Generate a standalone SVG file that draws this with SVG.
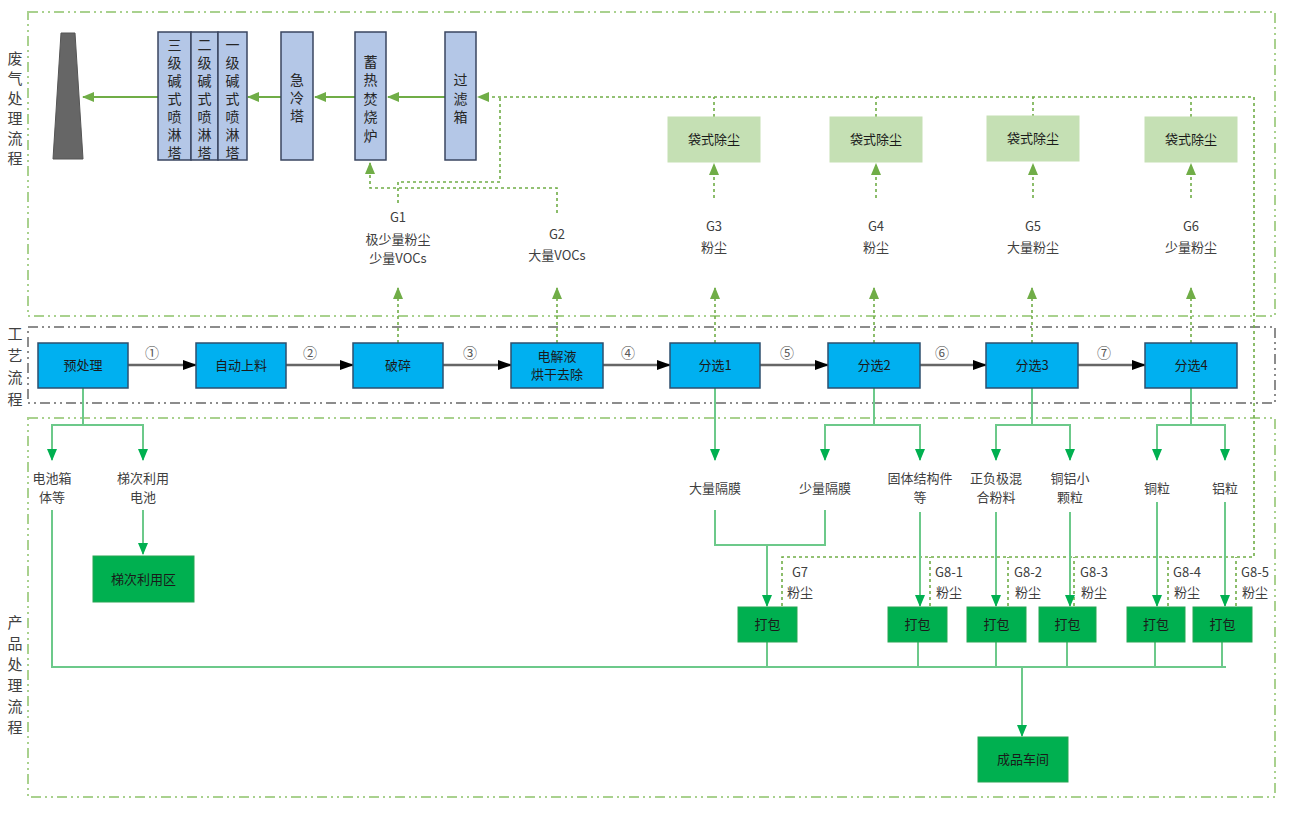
<svg xmlns="http://www.w3.org/2000/svg" width="1290" height="813" viewBox="0 0 1290 813">
<style>
text{font-family:"Noto Sans CJK SC","Liberation Sans",sans-serif;fill:#404040;font-size:13px;text-anchor:middle}
.side{font-size:15px}
.tw{font-size:14px;fill:#262626}
.bx{fill:#1a1a1a}
.frameG{fill:none;stroke:#a9d18e;stroke-width:2;stroke-dasharray:10 4 2 4 2 4}
.frameK{fill:none;stroke:#8c8c8c;stroke-width:2;stroke-dasharray:10 4 2 4 2 4}
.tower{fill:#b4c7e7;stroke:#3a4660;stroke-width:1.5}
.bag{fill:#c5e0b4;stroke:#c5e0b4}
.proc{fill:#00b0f0;stroke:#2e4f6e;stroke-width:1.5}
.pack{fill:#00b050;stroke:#26a653;stroke-width:1}
.gas{fill:none;stroke:#70ad47;stroke-width:2}
.dot{fill:none;stroke:#70ad47;stroke-width:1.6;stroke-dasharray:3 3}
.flow{fill:none;stroke:#6cc98a;stroke-width:2}
.main{fill:none;stroke:#666;stroke-width:2.5}
.num{font-size:14px;fill:#595959}
</style>
<defs>
<marker id="aG" markerUnits="userSpaceOnUse" markerWidth="12" markerHeight="10" refX="11" refY="5" orient="auto"><path d="M0,0 L12,5 L0,10 z" fill="#70ad47"/></marker>
<marker id="aF" markerUnits="userSpaceOnUse" markerWidth="12" markerHeight="10" refX="11" refY="5" orient="auto"><path d="M0,0 L12,5 L0,10 z" fill="#00b050"/></marker>
<marker id="aK" markerUnits="userSpaceOnUse" markerWidth="14" markerHeight="10" refX="13" refY="5" orient="auto"><path d="M0,0 L14,5 L0,10 z" fill="#000"/></marker>
</defs>
<rect width="1290" height="813" fill="#fff"/>

<g id="frames">
<rect class="frameG" x="28" y="12" width="1247" height="304"/>
<rect class="frameK" x="28" y="327" width="1247" height="76"/>
<rect class="frameG" x="28" y="418" width="1247" height="379"/>
</g>

<g id="section-labels">
<text class="side" x="15"><tspan x="15" y="64">废</tspan><tspan x="15" y="84">气</tspan><tspan x="15" y="104">处</tspan><tspan x="15" y="124">理</tspan><tspan x="15" y="144">流</tspan><tspan x="15" y="164">程</tspan></text>
<text class="side" x="15"><tspan x="15" y="339">工</tspan><tspan x="15" y="361">艺</tspan><tspan x="15" y="383">流</tspan><tspan x="15" y="405">程</tspan></text>
<text class="side" x="15"><tspan x="15" y="628">产</tspan><tspan x="15" y="649">品</tspan><tspan x="15" y="670">处</tspan><tspan x="15" y="691">理</tspan><tspan x="15" y="712">流</tspan><tspan x="15" y="733">程</tspan></text>
</g>

<g id="connectors">
<!-- gas treatment solid arrows -->
<path class="gas" d="M445,97 H388" marker-end="url(#aG)"/>
<path class="gas" d="M355,97 H315" marker-end="url(#aG)"/>
<path class="gas" d="M281,97 H248" marker-end="url(#aG)"/>
<path class="gas" d="M158,97 H83" marker-end="url(#aG)"/>
<!-- dust collection pipe -->
<path class="dot" d="M782,606 V557 H1254 V97 H478" marker-end="url(#aG)"/>
<path class="dot" d="M930,606 V557"/>
<path class="dot" d="M1008,606 V557"/>
<path class="dot" d="M1074,606 V557"/>
<path class="dot" d="M1168,606 V557"/>
<path class="dot" d="M1236,606 V557"/>
<path class="dot" d="M714,117 V97"/>
<path class="dot" d="M876,117 V97"/>
<path class="dot" d="M1033,117 V97"/>
<path class="dot" d="M1191,117 V97"/>
<path class="dot" d="M714,198 V164" marker-end="url(#aG)"/>
<path class="dot" d="M876,198 V164" marker-end="url(#aG)"/>
<path class="dot" d="M1033,198 V164" marker-end="url(#aG)"/>
<path class="dot" d="M1191,198 V164" marker-end="url(#aG)"/>
<path class="dot" d="M398,343 V288" marker-end="url(#aG)"/>
<path class="dot" d="M557,343 V288" marker-end="url(#aG)"/>
<path class="dot" d="M715,343 V288" marker-end="url(#aG)"/>
<path class="dot" d="M874,343 V288" marker-end="url(#aG)"/>
<path class="dot" d="M1032,343 V288" marker-end="url(#aG)"/>
<path class="dot" d="M1191,343 V288" marker-end="url(#aG)"/>
<path class="dot" d="M398,203 V182 H500 V97"/>
<path class="dot" d="M557,213 V188 H370 V163" marker-end="url(#aG)"/>
<!-- main process arrows -->
<path class="main" d="M128,365 H196" marker-end="url(#aK)"/>
<path class="main" d="M286,365 H353" marker-end="url(#aK)"/>
<path class="main" d="M443,365 H511" marker-end="url(#aK)"/>
<path class="main" d="M603,365 H670" marker-end="url(#aK)"/>
<path class="main" d="M760,365 H828" marker-end="url(#aK)"/>
<path class="main" d="M920,365 H986" marker-end="url(#aK)"/>
<path class="main" d="M1078,365 H1145" marker-end="url(#aK)"/>
<!-- product flow -->
<path class="flow" d="M83,388 V425"/>
<path class="flow" d="M52,460 V425 H143 V460" marker-end="url(#aF)"/>
<path class="flow" d="M52,425 V460" marker-end="url(#aF)"/>
<path class="flow" d="M143,510 V554" marker-end="url(#aF)"/>
<path class="flow" d="M52,510 V667 H1226"/>
<path class="flow" d="M715,388 V460" marker-end="url(#aF)"/>
<path class="flow" d="M874,388 V425"/>
<path class="flow" d="M825,460 V425 H920 V460" marker-end="url(#aF)"/>
<path class="flow" d="M825,425 V460" marker-end="url(#aF)"/>
<path class="flow" d="M1032,388 V425"/>
<path class="flow" d="M996,460 V425 H1070 V460" marker-end="url(#aF)"/>
<path class="flow" d="M996,425 V460" marker-end="url(#aF)"/>
<path class="flow" d="M1191,388 V425"/>
<path class="flow" d="M1157,460 V425 H1225 V460" marker-end="url(#aF)"/>
<path class="flow" d="M1157,425 V460" marker-end="url(#aF)"/>
<path class="flow" d="M715,510 V545 H825 V510"/>
<path class="flow" d="M767,545 V606" marker-end="url(#aF)"/>
<path class="flow" d="M920,512 V606" marker-end="url(#aF)"/>
<path class="flow" d="M996,512 V606" marker-end="url(#aF)"/>
<path class="flow" d="M1070,512 V606" marker-end="url(#aF)"/>
<path class="flow" d="M1157,502 V606" marker-end="url(#aF)"/>
<path class="flow" d="M1225,502 V606" marker-end="url(#aF)"/>
<path class="flow" d="M767,642 V667"/>
<path class="flow" d="M918,642 V667"/>
<path class="flow" d="M996,642 V667"/>
<path class="flow" d="M1067,642 V667"/>
<path class="flow" d="M1155,642 V667"/>
<path class="flow" d="M1222,642 V667"/>
<path class="flow" d="M1022,667 V736" marker-end="url(#aF)"/>
</g>

<g id="step-numbers">
<text class="num" x="152" y="358">①</text>
<text class="num" x="310" y="358">②</text>
<text class="num" x="470" y="358">③</text>
<text class="num" x="628" y="358">④</text>
<text class="num" x="787" y="358">⑤</text>
<text class="num" x="942" y="358">⑥</text>
<text class="num" x="1104" y="358">⑦</text>
</g>

<g id="chimney"><polygon points="61,33 75,33 83,159 53,159" fill="#666" stroke="#555"/></g>

<g id="tower3"><rect class="tower" x="158" y="32" width="33" height="128"/>
<text class="tw"><tspan x="174.5" y="50">三</tspan><tspan x="174.5" y="68">级</tspan><tspan x="174.5" y="86">碱</tspan><tspan x="174.5" y="104">式</tspan><tspan x="174.5" y="122">喷</tspan><tspan x="174.5" y="140">淋</tspan><tspan x="174.5" y="158">塔</tspan></text></g>
<g id="tower2"><rect class="tower" x="191" y="32" width="27" height="128"/>
<text class="tw"><tspan x="204.5" y="50">二</tspan><tspan x="204.5" y="68">级</tspan><tspan x="204.5" y="86">碱</tspan><tspan x="204.5" y="104">式</tspan><tspan x="204.5" y="122">喷</tspan><tspan x="204.5" y="140">淋</tspan><tspan x="204.5" y="158">塔</tspan></text></g>
<g id="tower1"><rect class="tower" x="218" y="32" width="29" height="128"/>
<text class="tw"><tspan x="232.5" y="50">一</tspan><tspan x="232.5" y="68">级</tspan><tspan x="232.5" y="86">碱</tspan><tspan x="232.5" y="104">式</tspan><tspan x="232.5" y="122">喷</tspan><tspan x="232.5" y="140">淋</tspan><tspan x="232.5" y="158">塔</tspan></text></g>
<g id="quench"><rect class="tower" x="281" y="32" width="32" height="128"/>
<text class="tw"><tspan x="297" y="85">急</tspan><tspan x="297" y="103">冷</tspan><tspan x="297" y="121">塔</tspan></text></g>
<g id="rto"><rect class="tower" x="355" y="32" width="31" height="128"/>
<text class="tw"><tspan x="370.5" y="67">蓄</tspan><tspan x="370.5" y="85">热</tspan><tspan x="370.5" y="104">焚</tspan><tspan x="370.5" y="122">烧</tspan><tspan x="370.5" y="141">炉</tspan></text></g>
<g id="filter"><rect class="tower" x="445" y="32" width="31" height="128"/>
<text class="tw"><tspan x="460.5" y="85">过</tspan><tspan x="460.5" y="104">滤</tspan><tspan x="460.5" y="122">箱</tspan></text></g>

<g id="bag1"><rect class="bag" x="668" y="117" width="92" height="45"/><text class="bx" x="714" y="144">袋式除尘</text></g>
<g id="bag2"><rect class="bag" x="830" y="117" width="92" height="45"/><text class="bx" x="876" y="144">袋式除尘</text></g>
<g id="bag3"><rect class="bag" x="987" y="116" width="92" height="45"/><text class="bx" x="1033" y="143">袋式除尘</text></g>
<g id="bag4"><rect class="bag" x="1145" y="117" width="92" height="45"/><text class="bx" x="1191" y="144">袋式除尘</text></g>

<g id="g-labels">
<text x="398" y="222">G1</text><text x="398" y="244">极少量粉尘</text><text x="398" y="263">少量VOCs</text>
<text x="557" y="239">G2</text><text x="557" y="260">大量VOCs</text>
<text x="714" y="231">G3</text><text x="714" y="252">粉尘</text>
<text x="876" y="231">G4</text><text x="876" y="252">粉尘</text>
<text x="1033" y="231">G5</text><text x="1033" y="252">大量粉尘</text>
<text x="1191" y="231">G6</text><text x="1191" y="252">少量粉尘</text>
<text x="800" y="577">G7</text><text x="800" y="597">粉尘</text>
<text x="949" y="577">G8-1</text><text x="949" y="597">粉尘</text>
<text x="1028" y="577">G8-2</text><text x="1028" y="597">粉尘</text>
<text x="1094" y="577">G8-3</text><text x="1094" y="597">粉尘</text>
<text x="1187" y="577">G8-4</text><text x="1187" y="597">粉尘</text>
<text x="1255" y="577">G8-5</text><text x="1255" y="597">粉尘</text>
</g>

<g id="p-pre"><rect class="proc" x="38" y="343" width="90" height="45"/><text class="bx" x="83" y="370">预处理</text></g>
<g id="p-feed"><rect class="proc" x="196" y="343" width="90" height="45"/><text class="bx" x="241" y="370">自动上料</text></g>
<g id="p-crush"><rect class="proc" x="353" y="343" width="90" height="45"/><text class="bx" x="398" y="370">破碎</text></g>
<g id="p-dry"><rect class="proc" x="511" y="343" width="92" height="45"/><text class="bx" x="557" y="361">电解液</text><text class="bx" x="557" y="379">烘干去除</text></g>
<g id="p-s1"><rect class="proc" x="670" y="343" width="90" height="45"/><text class="bx" x="715" y="370">分选1</text></g>
<g id="p-s2"><rect class="proc" x="828" y="343" width="92" height="45"/><text class="bx" x="874" y="370">分选2</text></g>
<g id="p-s3"><rect class="proc" x="986" y="343" width="92" height="45"/><text class="bx" x="1032" y="370">分选3</text></g>
<g id="p-s4"><rect class="proc" x="1145" y="343" width="92" height="45"/><text class="bx" x="1191" y="370">分选4</text></g>

<g id="products">
<text x="52" y="483">电池箱</text><text x="52" y="502">体等</text>
<text x="143" y="483">梯次利用</text><text x="143" y="502">电池</text>
<text x="715" y="493">大量隔膜</text>
<text x="825" y="493">少量隔膜</text>
<text x="920" y="483">固体结构件</text><text x="920" y="502">等</text>
<text x="996" y="483">正负极混</text><text x="996" y="502">合粉料</text>
<text x="1070" y="483">铜铝小</text><text x="1070" y="502">颗粒</text>
<text x="1157" y="493">铜粒</text>
<text x="1225" y="493">铝粒</text>
</g>

<g id="cascade-area"><rect class="pack" x="93" y="556" width="101" height="46"/><text class="bx" x="143.5" y="584">梯次利用区</text></g>
<g id="pack1"><rect class="pack" x="738" y="607" width="59" height="35"/><text class="bx" x="767.5" y="629">打包</text></g>
<g id="pack2"><rect class="pack" x="888" y="607" width="59" height="35"/><text class="bx" x="917.5" y="629">打包</text></g>
<g id="pack3"><rect class="pack" x="967" y="607" width="59" height="35"/><text class="bx" x="996.5" y="629">打包</text></g>
<g id="pack4"><rect class="pack" x="1039" y="607" width="57" height="35"/><text class="bx" x="1067.5" y="629">打包</text></g>
<g id="pack5"><rect class="pack" x="1127" y="607" width="58" height="35"/><text class="bx" x="1156" y="629">打包</text></g>
<g id="pack6"><rect class="pack" x="1193" y="607" width="59" height="35"/><text class="bx" x="1222.5" y="629">打包</text></g>
<g id="finished"><rect class="pack" x="978" y="737" width="90" height="45"/><text class="bx" x="1023" y="764">成品车间</text></g>
</svg>
